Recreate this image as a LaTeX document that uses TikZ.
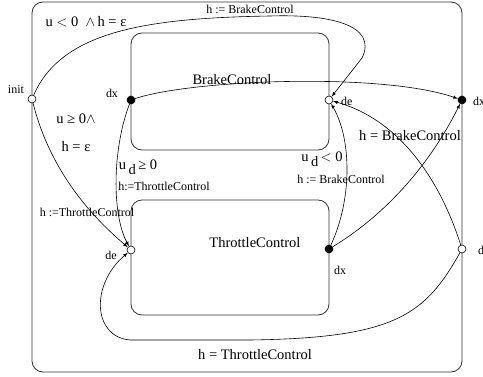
\documentclass[tikz,border=0pt]{standalone}
\usepackage{fontspec}
\setmainfont{Liberation Serif}
\begin{document}
\begin{tikzpicture}[>=latex,x=1pt,y=-1pt,
  port/.style={circle,draw,inner sep=0pt,minimum size=8pt,line width=0.6pt},
  inport/.style={port,fill=white},
  outport/.style={port,fill=black},
  lbl/.style={font=\fontsize{12}{14}\selectfont,inner sep=1pt},
  big/.style={font=\fontsize{14.5}{17}\selectfont,inner sep=1pt},
  box/.style={draw=black!80,line width=0.8pt,rounded corners=11pt},
  edge/.style={->,line width=0.6pt}]
  \useasboundingbox (0,0) rectangle (483,377);
  \draw[box] (32,2) rectangle (462,372);
  \draw[box] (131,33) rectangle (329,150);
  \draw[box] (131,200) rectangle (329,315);
  \node[big] (brake) at (232,80) {BrakeControl};
  \node[big] (throttle) at (255,243) {ThrottleControl};

  \node[inport] (init) at (32,99) {};
  \node[outport] (bdx) at (131,100) {};
  \node[inport] (bde) at (329,100) {};
  \node[outport] (odx) at (462,100) {};
  \node[inport] (tde) at (131,250) {};
  \node[outport] (tdx) at (329,249) {};
  \node[inport] (ode) at (462,249) {};
  \node[lbl] at (16,90) {init};
  \node[lbl] at (112,93) {dx};
  \node[lbl,anchor=west] at (340,101) {de};
  \node[lbl,anchor=west] at (472,101) {dx};
  \node[lbl] at (111,255) {de};
  \node[lbl] at (340,270) {dx};
  \node[lbl,anchor=west] at (477,250) {de};

  \draw[edge] (init) .. controls (62,30) and (150,18) .. (270,16)
    .. controls (330,14) and (378,25) .. (362,58) -- (bde);
  \node[lbl] at (250,9) {h := BrakeControl};
  \node[big] at (86,22) {u $<$ 0 \ $\wedge$\,h = ε};
  \draw[edge] (init) .. controls (50,170) and (90,215) .. (tde);
  \node[big] at (76,119) {u ≥ 0$\wedge$};
  \node[big] at (76,147) {h = ε};
  \node[lbl] at (87,212) {h :=ThrottleControl};
  \draw[edge] (bdx) .. controls (112,150) and (112,215) .. (tde);
  \node[big] at (138,167) {u\,\raisebox{-5pt}{d}\,≥ 0};
  \node[lbl] at (164,186) {h:=ThrottleControl};
  \draw[edge] (bdx) .. controls (190,80) and (380,72) .. (odx);
  \draw[edge] (tdx) .. controls (352,200) and (352,140) .. (bde);
  \node[big] at (322,159) {u\,\raisebox{-5pt}{d}\,$<$ 0};
  \node[lbl] at (341,179) {h := BrakeControl};
  \draw[edge] (tdx) .. controls (390,212) and (432,160) .. (odx);
  \draw[edge] (ode) .. controls (440,180) and (400,120) .. (bde);
  \node[big] at (410,136) {h = BrakeControl};
  \draw[edge] (ode) .. controls (425,315) and (395,338) .. (250,340)
    -- (130,340) .. controls (93,337) and (90,285) .. (tde);
  \node[big] at (255,355) {h = ThrottleControl};
\end{tikzpicture}
\end{document}
